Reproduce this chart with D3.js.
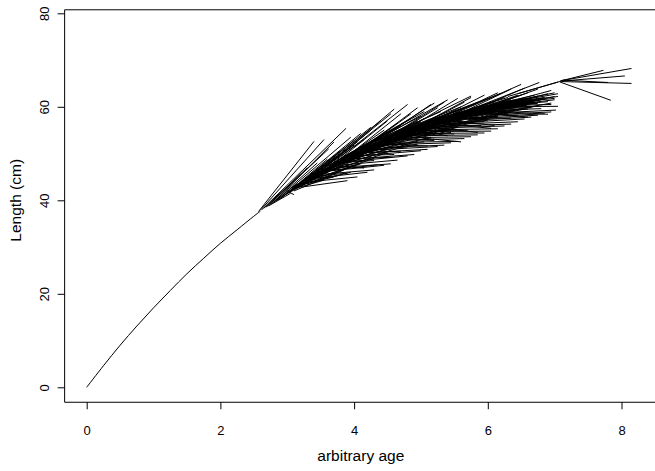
<!DOCTYPE html>
<html>
<head>
<meta charset="utf-8">
<script src="https://cdn.jsdelivr.net/npm/d3@7"></script>
<style>
  body { margin: 0; background: #fff; }
  text { font-family: "Liberation Sans", Arial, sans-serif; fill: #000; }
</style>
</head>
<body>
<svg id="chart" width="655" height="471"></svg>
<script>
// Mean growth curve up to the youngest tagged fish
const curveAge = [0, 0.25, 0.5, 0.75, 1.0, 1.25, 1.5, 1.75, 2.0, 2.25, 2.5, 2.6];
const curveLen = [0, 4.6, 9.0, 13.1, 17.0, 20.7, 24.3, 27.6, 30.8, 33.7, 36.6, 37.7];

// Tag-recapture increments: age/length at release and at recapture
const relAge = [
  2.57,2.60,2.62,2.65,2.68,2.70,2.72,2.75,2.78,2.80,2.83,2.85,2.88,3.00,2.92,2.95,2.98,3.00,3.03,3.05,
  3.08,3.10,3.12,3.15,3.18,3.20,3.22,3.25,3.28,3.30,3.32,3.35,3.38,3.40,3.42,3.45,3.48,3.50,3.52,3.55,
  3.58,3.60,3.62,3.65,3.68,3.70,3.72,3.75,3.78,3.80,3.82,3.85,3.88,3.90,3.92,3.95,3.98,4.00,4.02,4.05,
  4.08,4.10,4.12,4.15,4.18,4.20,4.22,4.25,4.28,4.30,4.32,4.35,4.38,4.40,4.42,4.45,4.48,4.50,4.52,4.55,
  4.58,4.60,4.62,4.65,4.68,4.70,4.72,4.75,4.78,4.80,4.82,4.85,4.88,4.90,4.92,4.95,4.98,5.00,5.02,5.05,
  5.08,5.10,5.12,5.15,5.18,5.20,5.22,5.25,5.28,5.30,5.32,5.35,5.38,5.40,5.42,5.45,5.48,5.50,5.52,5.55,
  5.58,5.60,5.63,5.66,5.70,5.73,5.76,5.80,5.83,5.86,5.90,5.93,5.96,6.00,6.03,6.06,6.10,6.13,6.16,6.20,
  6.25,6.30,6.30,6.45,7.08,7.10,7.10,7.08,7.12,7.10,
  3.05,3.15,3.25,3.35,3.45,3.55,3.65,3.75,3.85,3.95,4.05,4.15,4.25,4.35,4.45,4.55,4.65,4.75,4.85,4.95,
  5.05,5.15,5.25,5.35,5.45,5.55,5.65,5.75,5.85,5.95,3.10,3.30,3.50,3.70,3.90,4.10,4.30,4.50,4.70,4.90,
  5.10,5.30,5.50,5.70,5.90,3.20,3.40,3.60,3.80,4.00,4.20,4.40,4.60,4.80,5.00,5.20,5.40,5.60,5.80,6.00,
  3.20,3.35,3.45,3.55,3.65,3.75,3.85,3.95,4.05,4.15,4.25,4.35,4.45,4.55,4.65,4.75,4.85,4.95,5.05,5.15,
  5.25,5.35,5.45,5.55,5.65,5.75,5.85,5.95,6.05,6.15,
  3.10,3.30,3.50,3.70,3.90,4.10,4.30,4.50,4.70,4.90,5.10,5.30,5.50,5.70,5.90,6.10,
  3.30,3.50,3.70,3.90,4.10,4.30,4.50,4.70,4.90,5.10,5.30,5.50,5.70,5.90,
  3.15,3.40,3.60,3.80,4.00,4.20,4.40,4.60,4.80,5.00,5.20,5.40,5.60,5.80,6.00,6.20,
  3.25,3.33,3.41,3.49,3.57,3.64,3.72,3.80,3.88,3.96,4.04,4.12,4.20,4.28,4.36,4.44,4.52,4.60,4.68,4.76,
  4.84,4.92,5.00,5.08,5.16,5.24,5.32,5.40,5.48,5.56,5.64,5.72,5.80,5.88,5.96,6.04
];
const relLen = [
  37.6,37.9,38.0,38.3,38.5,38.7,38.8,39.1,39.4,39.6,39.9,40.0,40.3,42.0,40.6,41.0,41.3,41.5,41.9,42.0,
  42.4,42.5,42.8,43.0,43.2,43.6,43.5,44.0,44.2,44.5,44.4,45.0,45.1,45.5,45.4,46.0,46.1,46.5,46.3,47.0,
  46.8,47.3,47.5,47.7,48.0,48.2,48.0,48.6,48.8,49.0,48.9,49.5,49.5,49.8,49.7,50.2,50.1,50.5,50.3,50.8,
  50.9,51.2,51.0,51.5,51.6,52.0,51.8,52.2,52.4,52.5,52.3,52.8,53.0,53.1,53.0,53.5,53.4,53.8,53.6,54.0,
  54.1,54.3,54.0,54.5,54.6,54.8,54.7,55.0,55.2,55.3,55.1,55.5,55.6,55.8,55.6,56.0,56.1,56.2,56.0,56.5,
  56.6,56.8,56.6,57.0,57.1,57.2,57.0,57.4,57.5,57.6,57.4,57.8,57.9,58.0,57.8,58.2,58.3,58.4,58.2,58.6,
  58.7,58.8,58.6,59.0,59.2,59.0,59.4,59.5,59.3,59.7,59.8,59.6,60.0,60.1,59.9,60.3,60.4,60.2,60.6,60.7,
  60.9,61.0,62.2,62.8,65.5,65.6,65.4,65.3,65.7,65.5,
  42.6,43.4,44.3,44.8,45.6,46.5,47.2,48.0,48.8,49.6,50.3,51.0,51.7,52.4,53.0,53.6,54.1,54.6,55.2,55.6,
  56.1,56.6,57.1,57.6,57.9,58.3,58.8,59.1,59.4,59.8,42.9,44.1,45.8,47.4,49.0,50.4,51.8,53.0,54.2,55.1,
  56.2,57.0,57.8,58.6,59.2,43.2,44.9,46.6,48.2,49.7,51.1,52.4,53.6,54.6,55.5,56.5,57.4,58.2,58.9,59.6,
  42.8,44.0,44.8,45.6,46.3,47.0,47.6,48.3,48.9,49.6,50.2,50.8,51.3,51.9,52.4,52.9,53.4,53.8,54.3,54.7,
  55.1,55.5,55.9,56.3,56.7,57.1,57.5,57.9,58.3,58.7,
  42.0,43.5,45.0,46.5,48.0,49.3,50.6,51.8,52.8,53.8,54.8,55.6,56.4,57.2,57.9,58.6,
  44.6,46.2,47.8,49.4,50.8,52.2,53.4,54.4,55.4,56.4,57.3,58.0,58.8,59.5,
  42.7,44.8,46.4,47.8,49.3,50.6,51.8,53.0,54.0,55.0,55.9,56.8,57.6,58.4,59.1,59.8,
  43.8,44.5,45.1,45.7,46.3,46.9,47.4,48.0,48.6,49.2,49.8,50.4,50.9,51.5,52.0,52.5,53.0,53.5,54.0,54.4,
  54.9,55.3,55.7,56.1,56.5,56.9,57.2,57.6,57.9,58.2,58.6,58.9,59.2,59.5,59.8,60.1
];
const recAge = [
  3.40,3.55,3.88,3.20,3.30,3.62,3.05,3.45,3.70,3.15,3.95,3.35,3.75,3.10,3.60,3.80,3.50,4.10,3.90,3.65,
  4.00,3.55,4.25,3.85,3.70,4.05,3.95,4.15,3.75,4.40,4.00,4.20,3.90,4.30,4.55,4.10,4.35,4.45,4.00,4.60,
  4.25,4.50,4.15,4.70,4.40,4.80,4.30,4.65,4.55,4.85,4.45,4.75,4.60,5.00,4.50,4.90,4.70,5.05,4.60,5.10,
  4.80,4.95,5.20,4.85,5.05,5.30,4.90,5.10,5.25,5.40,5.00,5.35,5.15,5.20,5.50,5.00,5.45,5.60,5.30,5.60,
  5.40,5.75,5.35,5.55,5.30,5.70,5.65,5.50,5.85,5.40,5.75,5.60,5.90,5.80,5.50,6.00,5.70,6.05,5.85,5.95,
  5.80,6.10,6.05,5.90,6.20,6.00,6.15,6.10,6.25,6.05,6.35,6.30,6.00,6.45,6.15,6.50,6.30,6.40,6.20,6.60,
  6.45,6.70,6.35,6.77,6.55,6.60,6.80,6.50,6.90,6.75,7.00,6.65,7.05,6.85,7.00,6.60,7.05,6.95,7.00,6.70,
  7.05,6.95,7.10,7.05,7.73,8.15,8.15,7.84,7.80,8.05,
  3.70,3.95,3.85,4.05,4.20,4.35,4.40,4.50,4.70,4.75,4.90,5.00,5.10,5.15,5.25,5.35,5.45,5.55,5.65,5.75,
  5.85,5.95,6.05,6.15,6.25,6.35,6.45,6.55,6.65,6.75,3.60,4.10,4.25,4.55,4.70,4.95,5.20,5.35,5.50,5.75,
  5.95,6.20,6.30,6.60,6.80,4.15,4.30,4.45,4.65,4.85,5.05,5.25,5.45,5.65,5.85,6.05,6.25,6.45,6.65,6.90,
  3.90,4.05,4.20,4.30,4.45,4.55,4.65,4.80,4.90,5.00,5.10,5.25,5.35,5.45,5.55,5.65,5.75,5.85,5.95,6.05,
  6.15,6.25,6.35,6.45,6.55,6.65,6.75,6.85,6.95,7.02,
  3.85,4.10,4.30,4.50,4.75,4.95,5.15,5.35,5.55,5.75,5.95,6.15,6.35,6.55,6.75,6.95,
  4.00,4.25,4.50,4.70,4.95,5.15,5.35,5.55,5.75,5.95,6.15,6.35,6.55,6.75,
  3.80,4.15,4.40,4.60,4.85,5.05,5.25,5.45,5.65,5.85,6.05,6.25,6.45,6.65,6.85,7.00,
  4.00,4.12,4.22,4.28,4.38,4.47,4.56,4.62,4.73,4.80,4.90,4.98,5.07,5.14,5.22,5.30,5.38,5.46,5.54,5.62,
  5.70,5.78,5.86,5.94,6.02,6.10,6.18,6.26,6.34,6.42,6.50,6.58,6.66,6.74,6.82,6.90
];
const recLen = [
  52.6,53.0,55.4,45.6,47.0,51.0,41.5,48.0,52.5,43.6,53.5,44.8,49.5,41.2,48.8,50.6,45.2,54.3,49.0,46.5,
  51.8,44.3,55.6,47.6,45.0,52.5,46.0,53.0,45.2,57.0,48.5,50.5,45.8,52.0,58.5,49.3,47.6,54.0,47.5,59.5,
  50.0,52.5,46.9,56.0,51.0,60.5,48.5,53.5,49.2,57.5,51.2,52.8,49.8,58.0,54.0,55.0,50.5,59.0,52.0,56.0,
  51.4,57.0,60.8,53.8,52.5,59.0,55.5,51.6,57.5,61.5,53.5,55.0,56.8,52.8,59.0,55.8,54.5,60.0,56.5,52.5,
  58.5,62.3,54.8,57.0,57.8,55.0,59.8,56.0,61.0,53.8,58.0,57.2,56.0,60.5,55.2,59.0,58.8,62.0,54.5,57.8,
  59.2,61.0,55.4,57.8,62.9,60.2,58.0,56.0,60.5,59.5,57.6,62.0,57.0,60.8,59.0,64.8,58.5,61.5,60.5,59.5,
  58.2,62.5,61.0,65.2,60.0,57.8,61.5,62.5,58.4,60.8,63.0,59.8,60.1,62.0,61.5,63.0,62.8,60.5,61.8,61.0,
  62.2,63.5,65.5,65.3,67.8,68.2,65.0,61.4,65.2,66.6,
  47.8,49.5,48.0,50.0,51.5,52.2,53.5,51.0,54.5,53.2,54.0,56.8,55.0,54.0,58.0,56.0,57.5,58.8,56.5,59.5,
  58.2,60.5,58.6,60.8,59.2,61.5,60.0,61.8,60.8,62.3,46.0,47.8,49.0,50.6,52.2,52.0,55.5,55.2,54.2,57.0,
  56.8,59.0,59.8,60.5,59.6,51.0,53.0,55.0,56.5,58.5,57.5,59.8,58.6,61.0,59.5,61.0,62.0,62.5,61.8,62.8,
  44.2,45.0,46.0,46.5,47.5,47.8,48.6,49.5,49.8,50.6,50.9,51.5,51.8,52.3,52.6,53.2,53.6,54.0,54.4,54.8,
  55.3,55.9,56.3,56.8,57.4,57.8,58.2,58.5,58.9,59.3,
  46.5,48.0,49.0,50.2,51.5,52.6,53.5,54.6,55.6,56.5,57.3,58.0,58.8,59.5,60.2,60.8,
  52.8,55.0,57.0,58.5,59.8,60.5,61.0,61.8,62.0,62.5,63.0,63.8,64.0,63.8,
  48.2,49.8,51.8,53.0,54.5,55.5,56.5,57.4,58.2,59.0,59.6,60.3,60.8,61.3,61.7,62.2,
  50.0,50.2,51.6,50.8,52.6,51.9,53.4,52.7,54.2,53.4,55.0,54.2,55.8,55.0,56.6,55.7,57.2,56.4,57.9,57.0,
  58.5,57.6,59.0,58.2,59.5,58.8,60.0,59.3,60.5,59.8,61.0,60.3,61.4,60.7,61.8,61.1
];

const xTicks = [0, 2, 4, 6, 8];
const yTicks = [0, 20, 40, 60, 80];
const xTitle = "arbitrary age";
const yTitle = "Length (cm)";

const W = 655, H = 471;
const svg = d3.select("#chart");

const x = d3.scaleLinear().domain([0, 8]).range([86.7, 621.5]);
const y = d3.scaleLinear().domain([0, 80]).range([387.3, 13.3]);

// plot region edges (axis range padded as in base graphics)
const plotLeft = x(-0.33);
const plotBottom = y(-3.2);
const plotTop = y(80.75);

// frame: top, left and bottom sides
const frame = svg.append("g").attr("stroke", "#000").attr("stroke-width", 1).attr("fill", "none");
frame.append("line").attr("x1", plotLeft).attr("x2", W).attr("y1", plotTop).attr("y2", plotTop);
frame.append("line").attr("x1", plotLeft).attr("x2", plotLeft).attr("y1", plotTop).attr("y2", plotBottom);
frame.append("line").attr("x1", plotLeft).attr("x2", W).attr("y1", plotBottom).attr("y2", plotBottom);

// x axis
const gx = svg.append("g")
  .attr("transform", `translate(0,${plotBottom})`)
  .call(d3.axisBottom(x).tickValues(xTicks).tickSize(7).tickFormat(d3.format("d")));
gx.select(".domain").remove();
gx.selectAll(".tick line").attr("stroke", "#000");
gx.selectAll(".tick text")
  .attr("y", 33).attr("dy", 0)
  .style("font-size", "13px").style("font-family", "Liberation Sans, Arial, sans-serif");

// y axis with labels parallel to the axis
const gy = svg.append("g")
  .attr("transform", `translate(${plotLeft},0)`)
  .call(d3.axisLeft(y).tickValues(yTicks).tickSize(7).tickFormat(d3.format("d")));
gy.select(".domain").remove();
gy.selectAll(".tick line").attr("stroke", "#000");
gy.selectAll(".tick text")
  .attr("x", 0).attr("dy", 0)
  .attr("text-anchor", "middle")
  .attr("transform", "translate(-16,0) rotate(-90)")
  .style("font-size", "13px").style("font-family", "Liberation Sans, Arial, sans-serif");

// axis titles
svg.append("text")
  .attr("x", (plotLeft + W + 2) / 2).attr("y", 461)
  .attr("text-anchor", "middle")
  .style("font-size", "15.5px")
  .text(xTitle);
svg.append("text")
  .attr("transform", `translate(21,${(plotBottom + y(83.2)) / 2}) rotate(-90)`)
  .attr("text-anchor", "middle")
  .style("font-size", "15.5px")
  .text(yTitle);

// mean growth curve
const curvePts = curveAge.map((a, i) => [a, curveLen[i]]);
svg.append("path")
  .datum(curvePts)
  .attr("fill", "none").attr("stroke", "#000").attr("stroke-width", 1)
  .attr("d", d3.line().x(d => x(d[0])).y(d => y(d[1])).curve(d3.curveCatmullRom));

// growth increments
const segs = relAge.map((a, i) => ({ a1: a, l1: relLen[i], a2: recAge[i], l2: recLen[i] }));
svg.append("g")
  .attr("stroke", "#000").attr("stroke-width", 1)
  .selectAll("line")
  .data(segs)
  .join("line")
  .attr("x1", d => x(d.a1)).attr("y1", d => y(d.l1))
  .attr("x2", d => x(d.a2)).attr("y2", d => y(d.l2));
</script>
</body>
</html>
